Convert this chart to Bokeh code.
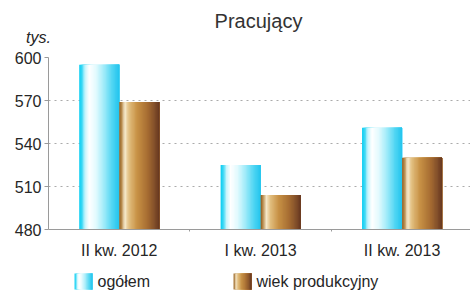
from bokeh.plotting import figure
from bokeh.layouts import column, row
from bokeh.models import FixedTicker, Range1d
from bokeh.core.properties import value
from bokeh.embed import file_html
from bokeh.resources import INLINE
import numpy as np

# ---- data ----
categories = ["II kw. 2012", "I kw. 2013", "II kw. 2013"]
ogolem = [595, 525, 551]
wiek_produkcyjny = [569, 504, 530]
series_names = ["ogółem", "wiek produkcyjny"]
y_ticks = [480, 510, 540, 570, 600]
title_text = "Pracujący"
unit_text = "tys."

FONT = "Liberation Sans"
TXT = "#262626"
AX = "#9a9a9a"

cyan_stops = [(0.0, "#0ccdf2"), (0.07, "#3ad8f5"), (0.14, "#c4f4fc"), (0.25, "#ffffff"),
              (0.42, "#e2fafe"), (0.62, "#a0ebf9"), (0.82, "#52d6f3"), (1.0, "#22c4ee")]
brown_stops = [(0.0, "#8e5e24"), (0.06, "#b88a4a"), (0.14, "#f7ebd0"), (0.24, "#e2bf80"),
               (0.45, "#c79145"), (0.7, "#a86e33"), (0.88, "#83502a"), (1.0, "#65371f")]


def hex2rgb(h):
    h = h.lstrip("#")
    return np.array([int(h[i:i + 2], 16) for i in (0, 2, 4)], dtype=float)


def interp(stops, t):
    for (p0, c0), (p1, c1) in zip(stops[:-1], stops[1:]):
        if p0 <= t <= p1:
            f = (t - p0) / (p1 - p0) if p1 > p0 else 0
            c = hex2rgb(c0) * (1 - f) + hex2rgb(c1) * f
            return "#%02x%02x%02x" % tuple(int(round(v)) for v in c)
    return stops[-1][1]


W = 470
LEFT = 48

# ---- header (title + unit), in page pixels ----
hd = figure(width=W, height=48, x_range=Range1d(0, W), y_range=Range1d(0, 48),
            output_backend="svg", toolbar_location=None, min_border=0,
            x_axis_location=None, y_axis_location=None)
hd.grid.visible = False
hd.outline_line_color = None
hd.text(x=[258], y=[28], text=[title_text], text_font=value(FONT), text_font_size="20px",
        text_align="center", text_baseline="middle", text_color="#333333")
hd.text(x=[38], y=[11], text=[unit_text], text_font=value(FONT), text_font_size="16px",
        text_font_style="italic", text_align="center", text_baseline="middle", text_color=TXT)

# ---- main chart ----
p = figure(width=W, height=215, x_range=Range1d(0, 2.984), y_range=Range1d(480, 600),
           output_backend="svg", toolbar_location=None,
           min_border_left=LEFT, min_border_right=0, min_border_top=9, min_border_bottom=34)
p.outline_line_color = None

centers = [i + 0.5 for i in range(len(categories))]
bw = 0.283
N = 30
sw = bw / N
for vals, stops, left_off in [(ogolem, cyan_stops, -bw), (wiek_produkcyjny, brown_stops, 0.0)]:
    for i in range(N):
        w = bw - i * sw
        xs = [c + left_off + i * sw + w / 2 for c in centers]
        p.vbar(x=xs, top=vals, bottom=480, width=w,
               fill_color=interp(stops, (i + 0.5) / N), line_color=None)

p.xgrid.visible = False
p.ygrid.grid_line_color = "#ababab"
p.ygrid.grid_line_dash = "2 4"
p.ygrid.grid_line_width = 1
p.yaxis.ticker = FixedTicker(ticks=y_ticks)
p.yaxis.axis_line_color = AX
p.yaxis.major_tick_line_color = AX
p.yaxis.major_tick_out = 4
p.yaxis.major_tick_in = 0
p.yaxis.minor_tick_line_color = None
p.yaxis.major_label_standoff = 3
p.yaxis.major_label_text_font = FONT
p.yaxis.major_label_text_font_size = "16px"
p.yaxis.major_label_text_color = TXT

p.xaxis.ticker = FixedTicker(ticks=centers, minor_ticks=[1, 2])
p.xaxis.major_label_overrides = {c: lab for c, lab in zip(centers, categories)}
p.xaxis.axis_line_color = AX
p.xaxis.major_tick_line_color = None
p.xaxis.minor_tick_line_color = AX
p.xaxis.minor_tick_out = 2
p.xaxis.minor_tick_in = 0
p.xaxis.major_label_standoff = 6
p.xaxis.major_label_text_font = FONT
p.xaxis.major_label_text_font_size = "16px"
p.xaxis.major_label_text_color = TXT

# ---- legend ----
lg = figure(width=W, height=30, x_range=Range1d(LEFT, W), y_range=Range1d(0, 30),
            output_backend="svg", toolbar_location=None, min_border=0, min_border_left=LEFT,
            x_axis_location=None, y_axis_location=None)
lg.grid.visible = False
lg.outline_line_color = None
M = 14
for x0, stops, name in [(74, cyan_stops, series_names[0]), (233, brown_stops, series_names[1])]:
    w = 18.0
    lefts = [x0 + w * i / M for i in range(M)]
    rights = [x0 + w for i in range(M)]
    cols = [interp(stops, (i + 0.5) / M) for i in range(M)]
    lg.quad(left=lefts, right=rights, top=20, bottom=4, fill_color=cols, line_color=None)
    lg.text(x=[x0 + 23], y=[12], text=[name], text_font=value(FONT), text_font_size="16px",
            text_baseline="middle", text_align="left", text_color=TXT)

layout = column(row(hd), p, lg, spacing=0)
open("out.html", "w").write(file_html(layout, INLINE))
